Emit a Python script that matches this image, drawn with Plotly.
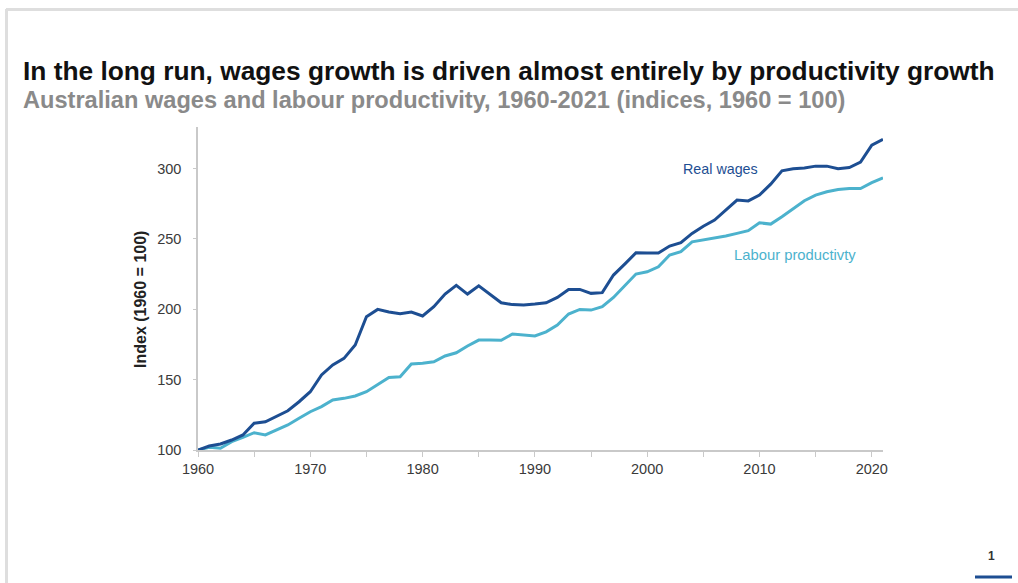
import plotly.graph_objects as go

# Annual index values, 1960 = 100
years = list(range(1960, 2022))

real_wages = [
    100.0, 102.8, 104.3, 107.1, 110.7, 119.0, 120.0, 123.7, 127.9, 134.3,
    141.4, 153.3, 160.4, 165.1, 174.6, 194.7, 199.9, 198.0, 196.8, 198.0,
    195.2, 201.8, 210.8, 217.0, 210.8, 216.6, 210.8, 204.6, 203.3, 203.0,
    203.7, 204.6, 208.4, 214.1, 214.1, 211.3, 211.8, 224.3, 232.1, 240.1,
    240.0, 240.0, 244.9, 247.3, 253.9, 259.0, 263.4, 270.5, 277.6, 277.0,
    281.1, 288.9, 298.4, 299.8, 300.3, 301.7, 301.7, 299.8, 300.7, 304.5,
    316.6, 320.7,
]

labour_productivity = [
    100.0, 101.9, 101.2, 105.9, 109.0, 112.3, 110.7, 114.2, 117.8, 122.5,
    127.2, 130.8, 135.5, 136.7, 138.4, 141.4, 146.2, 151.6, 152.0, 161.1,
    161.6, 162.7, 166.8, 169.1, 173.9, 178.1, 178.1, 178.0, 182.4, 181.7,
    181.0, 184.0, 188.8, 196.6, 199.9, 199.4, 201.8, 208.4, 216.5, 225.0,
    226.6, 230.2, 238.5, 240.9, 247.9, 249.1, 250.3, 252.0, 253.9, 255.8,
    261.4, 260.5, 265.7, 271.6, 277.1, 281.1, 283.5, 285.1, 285.8, 285.8,
    289.9, 293.4,
]

x_ticks = [1960, 1970, 1980, 1990, 2000, 2010, 2020]
y_ticks = [100, 150, 200, 250, 300]

WAGES_BLUE = "#1d4e92"
PROD_BLUE = "#4cb2cd"
AXIS_GREY = "#c9c9c9"
TEXT_DARK = "#3a3a3a"

W, H = 1018, 583
M_L, M_R, M_T, M_B = 198, 135, 127, 133
PW, PH = W - M_L - M_R, H - M_T - M_B


def px(x):
    """Pixel column -> paper x."""
    return (x - M_L) / PW


def py(y):
    """Pixel row -> paper y."""
    return (H - M_B - y) / PH


fig = go.Figure()

fig.add_trace(go.Scatter(
    x=years, y=labour_productivity, mode="lines", name="Labour productivity",
    line=dict(color=PROD_BLUE, width=3), showlegend=False, cliponaxis=False,
))
fig.add_trace(go.Scatter(
    x=years, y=real_wages, mode="lines", name="Real wages",
    line=dict(color=WAGES_BLUE, width=3), showlegend=False, cliponaxis=False,
))

font_family = "Liberation Sans, Arial, sans-serif"

annotations = [
    dict(text="<b>In the long run, wages growth is driven almost entirely by productivity growth</b>",
         x=px(21), y=py(71), xref="paper", yref="paper", xanchor="left", yanchor="middle",
         showarrow=False, font=dict(family=font_family, size=26.3, color="#111111")),
    dict(text="<b>Australian wages and labour productivity, 1960-2021 (indices, 1960 = 100)</b>",
         x=px(21), y=py(100), xref="paper", yref="paper", xanchor="left", yanchor="middle",
         showarrow=False, font=dict(family=font_family, size=23.6, color="#8a8a8a")),
    dict(text="<b>Index (1960 = 100)</b>", textangle=-90,
         x=px(140), y=py(300), xref="paper", yref="paper", xanchor="center", yanchor="middle",
         showarrow=False, font=dict(family=font_family, size=16, color="#222222")),
    dict(text="Real wages", x=2006.5, y=299.6, xref="x", yref="y",
         xanchor="center", yanchor="middle", showarrow=False,
         font=dict(family=font_family, size=14.3, color=WAGES_BLUE)),
    dict(text="Labour productivty", x=2013.2, y=238.5, xref="x", yref="y",
         xanchor="center", yanchor="middle", showarrow=False,
         font=dict(family=font_family, size=14.8, color=PROD_BLUE)),
    dict(text="<b>1</b>", x=px(991), y=py(556), xref="paper", yref="paper",
         xanchor="center", yanchor="middle", showarrow=False,
         font=dict(family=font_family, size=12, color="#333333")),
]

shapes = [
    # slide frame
    dict(type="line", xref="paper", yref="paper", x0=px(6), x1=px(W + 5), y0=py(9.5), y1=py(9.5),
         line=dict(color="#dedede", width=3), layer="below"),
    dict(type="line", xref="paper", yref="paper", x0=px(6.5), x1=px(6.5), y0=py(9), y1=py(H + 5),
         line=dict(color="#dedede", width=3), layer="below"),
    # page marker bar
    dict(type="line", xref="paper", yref="paper", x0=px(975), x1=px(1012), y0=py(577), y1=py(577),
         line=dict(color=WAGES_BLUE, width=3)),
]

fig.update_layout(
    width=W, height=H,
    margin=dict(l=M_L, r=M_R, t=M_T, b=M_B, pad=0),
    paper_bgcolor="white", plot_bgcolor="white",
    font=dict(family=font_family, size=14.5, color=TEXT_DARK),
    annotations=annotations,
    shapes=shapes,
    xaxis=dict(
        range=[1960, 2021], tickvals=x_ticks, ticktext=[str(v) for v in x_ticks],
        showgrid=False, zeroline=False,
        showline=True, linecolor=AXIS_GREY, linewidth=1.5,
        ticks="outside", ticklen=5, tickcolor=AXIS_GREY, tickwidth=1,
        minor=dict(dtick=5, tick0=1960, ticks="outside", ticklen=5, tickcolor=AXIS_GREY, tickwidth=1),
        tickfont=dict(size=14.5, color=TEXT_DARK),
    ),
    yaxis=dict(
        range=[100, 329.5], tickvals=y_ticks,
        showgrid=False, zeroline=False,
        showline=True, linecolor=AXIS_GREY, linewidth=1.5,
        ticks="outside", ticklen=3, tickcolor=AXIS_GREY, tickwidth=1,
        ticklabelstandoff=9,
        tickfont=dict(size=14.5, color=TEXT_DARK),
    ),
)

fig.write_html("out.html")
